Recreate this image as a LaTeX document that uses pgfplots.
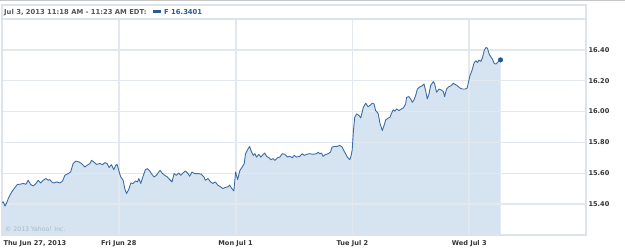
\documentclass[border=0pt]{standalone}
\usepackage{fontspec}
\setmainfont{DejaVu Sans}
\usepackage{pgfplots}
\pgfplotsset{compat=1.18}
\definecolor{lineblue}{HTML}{3C6EA5}
\definecolor{fillblue}{HTML}{D5E4F0}
\definecolor{dotblue}{HTML}{1D5A96}
\definecolor{gridc}{HTML}{E3E8EE}
\definecolor{framec}{HTML}{DDE3EA}
\definecolor{txtc}{HTML}{333333}
\definecolor{hdrc}{HTML}{555555}
\definecolor{hdrblue}{HTML}{2A5B91}
\definecolor{copyc}{HTML}{A9B8C6}
\begin{document}
\begin{tikzpicture}
\begin{axis}[
  at={(2bp,13bp)}, anchor=south west,
  scale only axis, width=584bp, height=216bp,
  xmin=0, xmax=5, ymin=15.2, ymax=16.6,
  set layers,
  axis line style={framec, line width=1.2bp},
  xtick={1,2,3,4},
  xticklabels={Fri Jun 28, Mon Jul 1, Tue Jul 2, Wed Jul 3},
  extra x ticks={0},
  extra x tick labels={Thu Jun 27{,} 2013},
  extra x tick style={xticklabel style={anchor=north west, xshift=-2bp}},
  ytick={15.4,15.6,15.8,16.0,16.2,16.4},
  yticklabels={15.40,15.60,15.80,16.00,16.20,16.40},
  yticklabel pos=right,
  major tick length=0pt,
  xmajorgrids, ymajorgrids,
  x grid style={gridc, line width=1.8bp},
  y grid style={gridc, line width=1.4bp},
  tick label style={font=\fontsize{6.6bp}{8bp}\selectfont\bfseries, text=txtc},
  xticklabel style={yshift=-2bp},
  yticklabel style={anchor=west, xshift=-1bp},
  /pgf/number format/assume math mode=true,
]
\addplot[on layer=axis background, fill=fillblue, draw=none] coordinates {
(0.000,15.408) (0.011,15.415) (0.026,15.387) (0.040,15.408) (0.054,15.437) (0.083,15.479) (0.111,15.508) (0.131,15.527) (0.154,15.529) (0.182,15.534) (0.205,15.529) (0.225,15.555) (0.245,15.527) (0.268,15.518) (0.291,15.534) (0.310,15.555) (0.331,15.537) (0.353,15.555) (0.376,15.566) (0.396,15.555) (0.410,15.559) (0.425,15.544) (0.444,15.537) (0.468,15.544) (0.496,15.537) (0.519,15.550) (0.538,15.587) (0.567,15.598) (0.587,15.608) (0.609,15.663) (0.632,15.679) (0.661,15.673) (0.681,15.663) (0.709,15.641) (0.729,15.652) (0.752,15.663) (0.767,15.684) (0.786,15.673) (0.809,15.658) (0.838,15.663) (0.861,15.656) (0.880,15.669) (0.900,15.663) (0.917,15.637) (0.937,15.656) (0.957,15.624) (0.974,15.652) (0.985,15.658)
(1.009,15.594) (1.017,15.576) (1.037,15.555) (1.051,15.501) (1.066,15.469) (1.085,15.495) (1.103,15.537) (1.122,15.534) (1.143,15.550) (1.160,15.544) (1.171,15.566) (1.188,15.534) (1.208,15.581) (1.228,15.624) (1.245,15.630) (1.265,15.615) (1.279,15.598) (1.302,15.576) (1.322,15.587) (1.336,15.602) (1.353,15.619) (1.370,15.602) (1.393,15.587) (1.416,15.576) (1.436,15.559) (1.456,15.544) (1.473,15.598) (1.493,15.587) (1.513,15.602) (1.530,15.587) (1.550,15.602) (1.570,15.615) (1.592,15.598) (1.607,15.581) (1.626,15.608) (1.650,15.598) (1.678,15.598) (1.707,15.594) (1.729,15.576) (1.741,15.555) (1.763,15.566) (1.786,15.544) (1.806,15.534) (1.826,15.544) (1.848,15.523) (1.872,15.512) (1.891,15.501) (1.912,15.508) (1.934,15.512) (1.949,15.523) (1.968,15.501) (1.985,15.486)
(2.000,15.608) (2.017,15.559) (2.037,15.619) (2.057,15.641) (2.074,15.663) (2.085,15.727) (2.103,15.753) (2.120,15.774) (2.137,15.737) (2.151,15.716) (2.165,15.727) (2.179,15.705) (2.199,15.723) (2.216,15.705) (2.237,15.723) (2.250,15.731) (2.265,15.710) (2.285,15.701) (2.302,15.688) (2.322,15.695) (2.336,15.684) (2.359,15.701) (2.379,15.705) (2.399,15.727) (2.421,15.723) (2.444,15.705) (2.464,15.710) (2.485,15.701) (2.502,15.716) (2.521,15.705) (2.550,15.710) (2.570,15.727) (2.587,15.716) (2.607,15.723) (2.635,15.727) (2.664,15.723) (2.692,15.727) (2.707,15.737) (2.721,15.727) (2.735,15.731) (2.749,15.710) (2.769,15.721) (2.792,15.727) (2.812,15.737) (2.826,15.770) (2.849,15.774) (2.872,15.774) (2.891,15.781) (2.912,15.770) (2.934,15.737) (2.957,15.705) (2.977,15.688) (2.985,15.701)
(2.998,15.750) (3.009,15.877) (3.020,15.963) (3.037,15.985) (3.057,15.974) (3.071,15.959) (3.094,16.028) (3.114,16.054) (3.134,16.032) (3.151,16.039) (3.171,16.054) (3.185,16.050) (3.199,16.006) (3.220,15.989) (3.237,15.921) (3.256,15.877) (3.271,15.910) (3.285,15.946) (3.305,15.957) (3.322,15.963) (3.333,15.985) (3.350,16.011) (3.362,16.002) (3.379,16.017) (3.399,16.006) (3.419,16.017) (3.436,16.024) (3.456,16.050) (3.464,16.092) (3.484,16.097) (3.498,16.082) (3.513,16.060) (3.527,16.075) (3.541,16.103) (3.556,16.146) (3.579,16.161) (3.598,16.168) (3.613,16.179) (3.627,16.135) (3.641,16.082) (3.656,16.114) (3.669,16.168) (3.692,16.194) (3.704,16.179) (3.721,16.125) (3.741,16.146) (3.761,16.140) (3.778,16.131) (3.789,16.097) (3.806,16.146) (3.826,16.161) (3.846,16.168) (3.863,16.183) (3.883,16.174) (3.897,16.168) (3.920,16.153) (3.940,16.146) (3.968,16.146) (3.983,16.153) (3.989,16.174)
(4.006,16.232) (4.023,16.265) (4.043,16.318) (4.057,16.329) (4.071,16.318) (4.085,16.334) (4.100,16.325) (4.114,16.350) (4.128,16.394) (4.143,16.415) (4.156,16.411) (4.171,16.372) (4.185,16.355) (4.199,16.340) (4.214,16.312) (4.228,16.308) (4.242,16.318) (4.256,16.329) (4.268,16.335)
} \closedcycle;
\addplot[lineblue, line width=0.9bp, line join=round] coordinates {
(0.000,15.408) (0.011,15.415) (0.026,15.387) (0.040,15.408) (0.054,15.437) (0.083,15.479) (0.111,15.508) (0.131,15.527) (0.154,15.529) (0.182,15.534) (0.205,15.529) (0.225,15.555) (0.245,15.527) (0.268,15.518) (0.291,15.534) (0.310,15.555) (0.331,15.537) (0.353,15.555) (0.376,15.566) (0.396,15.555) (0.410,15.559) (0.425,15.544) (0.444,15.537) (0.468,15.544) (0.496,15.537) (0.519,15.550) (0.538,15.587) (0.567,15.598) (0.587,15.608) (0.609,15.663) (0.632,15.679) (0.661,15.673) (0.681,15.663) (0.709,15.641) (0.729,15.652) (0.752,15.663) (0.767,15.684) (0.786,15.673) (0.809,15.658) (0.838,15.663) (0.861,15.656) (0.880,15.669) (0.900,15.663) (0.917,15.637) (0.937,15.656) (0.957,15.624) (0.974,15.652) (0.985,15.658)
(1.009,15.594) (1.017,15.576) (1.037,15.555) (1.051,15.501) (1.066,15.469) (1.085,15.495) (1.103,15.537) (1.122,15.534) (1.143,15.550) (1.160,15.544) (1.171,15.566) (1.188,15.534) (1.208,15.581) (1.228,15.624) (1.245,15.630) (1.265,15.615) (1.279,15.598) (1.302,15.576) (1.322,15.587) (1.336,15.602) (1.353,15.619) (1.370,15.602) (1.393,15.587) (1.416,15.576) (1.436,15.559) (1.456,15.544) (1.473,15.598) (1.493,15.587) (1.513,15.602) (1.530,15.587) (1.550,15.602) (1.570,15.615) (1.592,15.598) (1.607,15.581) (1.626,15.608) (1.650,15.598) (1.678,15.598) (1.707,15.594) (1.729,15.576) (1.741,15.555) (1.763,15.566) (1.786,15.544) (1.806,15.534) (1.826,15.544) (1.848,15.523) (1.872,15.512) (1.891,15.501) (1.912,15.508) (1.934,15.512) (1.949,15.523) (1.968,15.501) (1.985,15.486)
(2.000,15.608) (2.017,15.559) (2.037,15.619) (2.057,15.641) (2.074,15.663) (2.085,15.727) (2.103,15.753) (2.120,15.774) (2.137,15.737) (2.151,15.716) (2.165,15.727) (2.179,15.705) (2.199,15.723) (2.216,15.705) (2.237,15.723) (2.250,15.731) (2.265,15.710) (2.285,15.701) (2.302,15.688) (2.322,15.695) (2.336,15.684) (2.359,15.701) (2.379,15.705) (2.399,15.727) (2.421,15.723) (2.444,15.705) (2.464,15.710) (2.485,15.701) (2.502,15.716) (2.521,15.705) (2.550,15.710) (2.570,15.727) (2.587,15.716) (2.607,15.723) (2.635,15.727) (2.664,15.723) (2.692,15.727) (2.707,15.737) (2.721,15.727) (2.735,15.731) (2.749,15.710) (2.769,15.721) (2.792,15.727) (2.812,15.737) (2.826,15.770) (2.849,15.774) (2.872,15.774) (2.891,15.781) (2.912,15.770) (2.934,15.737) (2.957,15.705) (2.977,15.688) (2.985,15.701)
(2.998,15.750) (3.009,15.877) (3.020,15.963) (3.037,15.985) (3.057,15.974) (3.071,15.959) (3.094,16.028) (3.114,16.054) (3.134,16.032) (3.151,16.039) (3.171,16.054) (3.185,16.050) (3.199,16.006) (3.220,15.989) (3.237,15.921) (3.256,15.877) (3.271,15.910) (3.285,15.946) (3.305,15.957) (3.322,15.963) (3.333,15.985) (3.350,16.011) (3.362,16.002) (3.379,16.017) (3.399,16.006) (3.419,16.017) (3.436,16.024) (3.456,16.050) (3.464,16.092) (3.484,16.097) (3.498,16.082) (3.513,16.060) (3.527,16.075) (3.541,16.103) (3.556,16.146) (3.579,16.161) (3.598,16.168) (3.613,16.179) (3.627,16.135) (3.641,16.082) (3.656,16.114) (3.669,16.168) (3.692,16.194) (3.704,16.179) (3.721,16.125) (3.741,16.146) (3.761,16.140) (3.778,16.131) (3.789,16.097) (3.806,16.146) (3.826,16.161) (3.846,16.168) (3.863,16.183) (3.883,16.174) (3.897,16.168) (3.920,16.153) (3.940,16.146) (3.968,16.146) (3.983,16.153) (3.989,16.174)
(4.006,16.232) (4.023,16.265) (4.043,16.318) (4.057,16.329) (4.071,16.318) (4.085,16.334) (4.100,16.325) (4.114,16.350) (4.128,16.394) (4.143,16.415) (4.156,16.411) (4.171,16.372) (4.185,16.355) (4.199,16.340) (4.214,16.312) (4.228,16.308) (4.242,16.318) (4.256,16.329) (4.268,16.335)
};
\addplot[only marks, mark=*, mark size=2.3bp, color=dotblue] coordinates {(4.268,16.335)};
\end{axis}
% header and frame
\draw[framec, line width=1.2bp] (2bp,229bp) -- (2bp,243bp) -- (586bp,243bp) -- (586bp,229bp);
\draw[black!22, line width=1bp] (0bp,247bp) -- (625bp,247bp);
\node[anchor=base west, inner sep=0pt, text=hdrc, font=\fontsize{6.8bp}{8bp}\selectfont\bfseries] at (4bp,233.5bp) {Jul 3, 2013 11:18 AM - 11:23 AM EDT:};
\fill[hdrblue] (153bp,235bp) rectangle (161bp,237.5bp);
\node[anchor=base west, inner sep=0pt, text=hdrblue, font=\fontsize{6.8bp}{8bp}\selectfont\bfseries] at (164bp,233.5bp) {F 16.3401};
\node[anchor=west, inner sep=0pt, text=copyc, font=\fontsize{6.2bp}{7bp}\selectfont] at (5bp,19bp) {© 2013 Yahoo! Inc.};
\pgfresetboundingbox
\path (0bp,0bp) rectangle (625bp,248bp);
\end{tikzpicture}
\end{document}
